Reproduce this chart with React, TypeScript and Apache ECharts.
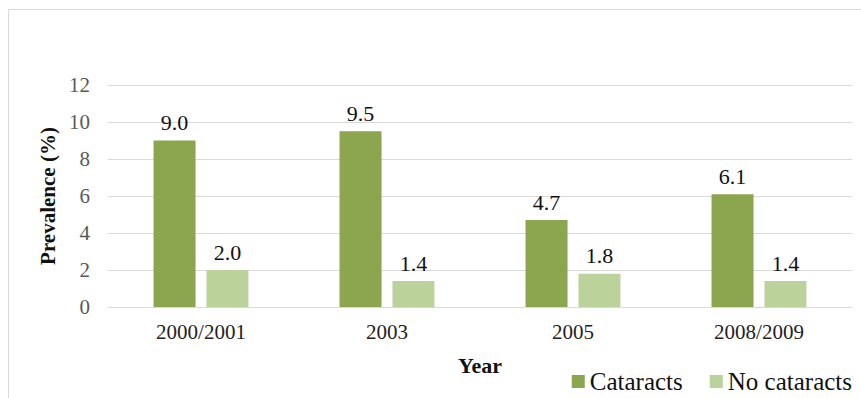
import React, { useEffect, useRef } from "react";
import * as echarts from "echarts";

const years = ["2000/2001", "2003", "2005", "2008/2009"];
const cataracts = [9.0, 9.5, 4.7, 6.1];
const noCataracts = [2.0, 1.4, 1.8, 1.4];
const yTicks = { min: 0, max: 12, interval: 2 };

const FONT = "Liberation Serif";

export default function App() {
  const ref = useRef<HTMLDivElement>(null);

  useEffect(() => {
    if (!ref.current) return;
    const chart = echarts.init(ref.current, undefined, { renderer: "svg" });
    const valueLabel = {
      show: true,
      position: "top" as const,
      distance: 7,
      fontFamily: FONT,
      fontSize: 22,
      color: "#111",
      formatter: (p: any) => Number(p.value).toFixed(1),
    };
    chart.setOption({
      animation: false,
      backgroundColor: "#fff",
      textStyle: { fontFamily: FONT },
      graphic: [
        {
          type: "rect",
          shape: { x: 8.5, y: 9.5, width: 900, height: 450 },
          style: { fill: "none", stroke: "#d9d9d9", lineWidth: 1 },
          silent: true,
        },
      ],
      grid: { left: 108, right: 9, top: 85, bottom: 91 },
      legend: {
        right: 9,
        top: 369,
        padding: 0,
        itemWidth: 13,
        itemHeight: 13,
        itemGap: 27,
        icon: "rect",
        textStyle: { fontFamily: FONT, fontSize: 25, color: "#111" },
        data: ["Cataracts", "No cataracts"],
      },
      xAxis: {
        type: "category",
        data: years,
        name: "Year",
        nameLocation: "middle",
        nameGap: 47,
        nameTextStyle: { fontFamily: FONT, fontSize: 22, fontWeight: "bold", color: "#111" },
        axisLine: { lineStyle: { color: "#d9d9d9", width: 1 } },
        axisTick: { show: false },
        axisLabel: { fontFamily: FONT, fontSize: 21, color: "#222", margin: 14 },
      },
      yAxis: {
        type: "value",
        min: yTicks.min,
        max: yTicks.max,
        interval: yTicks.interval,
        name: "Prevalence (%)",
        nameLocation: "middle",
        nameGap: 44,
        nameTextStyle: { fontFamily: FONT, fontSize: 21, fontWeight: "bold", color: "#111" },
        axisLine: { show: false },
        axisTick: { show: false },
        axisLabel: { fontFamily: FONT, fontSize: 21, color: "#595959", margin: 18 },
        splitLine: { lineStyle: { color: "#d9d9d9", width: 1 } },
      },
      series: [
        {
          name: "Cataracts",
          type: "bar",
          data: cataracts,
          barWidth: 42,
          barGap: "26%",
          itemStyle: { color: "#8ba64e" },
          label: valueLabel,
        },
        {
          name: "No cataracts",
          type: "bar",
          data: noCataracts,
          barWidth: 42,
          barGap: "26%",
          itemStyle: { color: "#bbd29b" },
          label: valueLabel,
        },
      ],
    });
    return () => chart.dispose();
  }, []);

  return (
    <div
      ref={ref}
      style={{ position: "fixed", left: 0, top: 0, width: 861, height: 398 }}
    />
  );
}
